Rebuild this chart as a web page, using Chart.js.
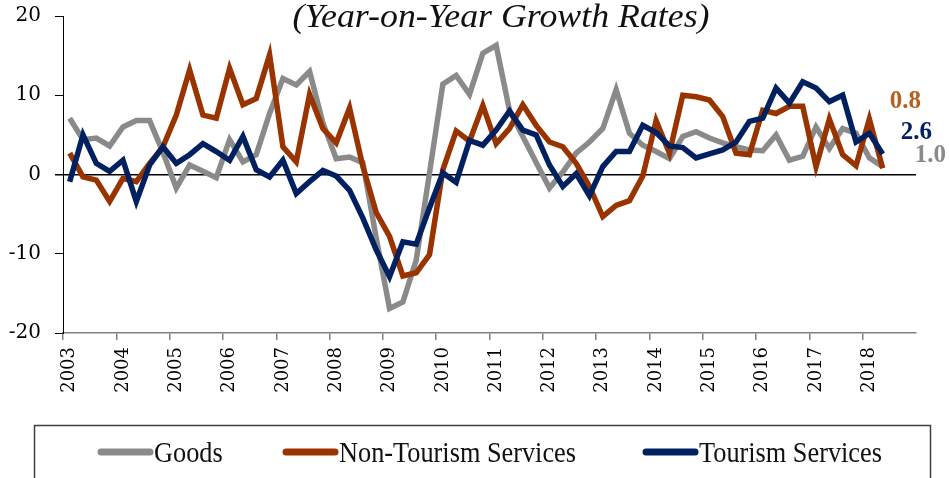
<!DOCTYPE html>
<html>
<head>
  <meta charset="utf-8" />
  <title>Year-on-Year Growth Rates</title>
  <script src="https://cdn.jsdelivr.net/npm/chart.js"></script>
  <style>
    html, body { margin: 0; padding: 0; background: #fff; }
    #wrap { width: 949px; height: 478px; }
  </style>
</head>
<body>
  <div id="wrap"><canvas id="growthChart"></canvas></div>

  <script>
    // Years on the axis (quarterly data, one label per year)
    const years = [2003, 2004, 2005, 2006, 2007, 2008, 2009, 2010,
                   2011, 2012, 2013, 2014, 2015, 2016, 2017, 2018];

    // 2003Q1 .. 2018Q2, year-on-year growth (%)
    const goods = [
      7.1, 4.4, 4.6, 3.6, 6.0, 6.8, 6.8, 2.8,
      -1.7, 1.2, 0.4, -0.4, 4.4, 1.6, 2.5, 7.7,
      12.1, 11.3, 13.0, 6.5, 2.0, 2.2, 1.5, -8.0,
      -16.9, -16.1, -10.8, 0.2, 11.4, 12.5, 10.1, 15.3,
      16.3, 8.1, 4.8, 1.5, -1.7, 0.3, 2.7, 4.1,
      5.8, 10.7, 5.2, 3.7, 2.9, 2.0, 4.8, 5.4,
      4.6, 4.0, 3.5, 3.1, 3.0, 5.0, 1.8, 2.3,
      6.0, 3.3, 5.8, 5.2, 2.1, 1.0
    ];
    const nonTourism = [
      2.7, -0.3, -0.7, -3.4, -0.5, -0.9, 1.4, 3.5,
      7.5, 13.2, 7.5, 7.1, 13.4, 8.8, 9.6, 15.1,
      3.5, 1.6, 10.1, 5.8, 4.0, 8.4, 1.0, -4.8,
      -7.8, -12.8, -12.4, -10.1, 0.6, 5.5, 4.2, 8.7,
      3.9, 5.8, 8.8, 6.2, 4.1, 3.5, 1.4, -1.5,
      -5.3, -3.9, -3.3, -0.2, 6.8, 2.7, 10.0, 9.8,
      9.4, 7.3, 2.7, 2.5, 8.1, 7.7, 8.6, 8.6,
      1.0, 7.0, 2.5, 1.1, 7.0, 0.8
    ];
    const tourism = [
      -0.9, 5.0, 1.4, 0.4, 1.8, -3.4, 1.2, 3.5,
      1.4, 2.5, 3.9, 2.9, 1.8, 4.8, 0.6, -0.3,
      1.8, -2.4, -0.9, 0.5, -0.2, -2.0, -5.5, -9.5,
      -12.9, -8.5, -8.8, -4.2, 0.2, -1.0, 4.3, 3.7,
      5.6, 8.0, 5.6, 5.0, 1.2, -1.5, 0.1, -2.7,
      1.0, 2.9, 2.9, 6.2, 5.3, 3.6, 3.4, 2.1,
      2.6, 3.1, 4.1, 6.7, 7.1, 10.9, 9.0, 11.7,
      10.9, 9.2, 10.0, 4.1, 5.2, 2.6
    ];

    const seriesNames = ['Goods', 'Non-Tourism Services', 'Tourism Services'];
    const seriesColors = ['#8a8a8a', '#993300', '#002060'];
    const endLabels = ['1.0', '0.8', '2.6'];
    const endLabelColors = ['#8a8a8a', '#b5601c', '#002060'];
    const yTicks = [-20, -10, 0, 10, 20];

    // one slot per quarter, 2003Q1 .. 2018Q4
    const quarterLabels = [];
    years.forEach(y => { for (let q = 1; q <= 4; q++) quarterLabels.push(y + 'Q' + q); });

    const decor = {
      id: 'decor',
      afterDraw(chart) {
        const ctx = chart.ctx;

        // title (top part cut off like the source picture)
        ctx.save();
        ctx.font = 'italic 33px "Liberation Serif"';
        ctx.fillStyle = '#111';
        ctx.textBaseline = 'alphabetic';
        const title = '(Year-on-Year Growth Rates)';
        const tw = ctx.measureText(title).width;
        ctx.translate(501 - 417 / 2, 27);
        ctx.scale(417 / tw, 1);
        ctx.fillText(title, 0, 0);
        ctx.restore();

        // latest values next to line ends
        const offs = [[32, -11], [7, -67], [18, -21]];
        ctx.save();
        ctx.font = 'bold 25px "Liberation Serif"';
        ctx.textBaseline = 'middle';
        chart.data.datasets.forEach((ds, i) => {
          const meta = chart.getDatasetMeta(i);
          const last = meta.data[ds.data.length - 1];
          ctx.fillStyle = endLabelColors[i];
          ctx.fillText(endLabels[i], last.x + offs[i][0], last.y + offs[i][1]);
        });
        ctx.restore();

        // legend box
        ctx.save();
        ctx.strokeStyle = '#404040';
        ctx.lineWidth = 1.5;
        ctx.strokeRect(34.5, 425.5, 896, 70);
        ctx.font = '30px "Liberation Serif"';
        const sx = 237 / ctx.measureText('Non-Tourism Services').width;
        const starts = [98, 283, 643];
        seriesNames.forEach((name, i) => {
          const x0 = starts[i];
          ctx.strokeStyle = seriesColors[i];
          ctx.lineWidth = 7;
          ctx.lineCap = 'round';
          ctx.beginPath();
          ctx.moveTo(x0 + 3, 452);
          ctx.lineTo(x0 + 52, 452);
          ctx.stroke();
          ctx.save();
          ctx.fillStyle = '#111';
          ctx.textBaseline = 'alphabetic';
          ctx.translate(x0 + 56, 462);
          ctx.scale(sx, 1);
          ctx.fillText(name, 0, 0);
          ctx.restore();
        });
        ctx.restore();
      }
    };

    const ctx = document.getElementById('growthChart').getContext('2d');
    const growthChart = new Chart(ctx, {
      type: 'line',
      data: {
        labels: quarterLabels,
        datasets: [
          { label: seriesNames[0], data: goods, borderColor: seriesColors[0], order: 3 },
          { label: seriesNames[1], data: nonTourism, borderColor: seriesColors[1], order: 2 },
          { label: seriesNames[2], data: tourism, borderColor: seriesColors[2], order: 1 }
        ]
      },
      options: {
        responsive: true,
        maintainAspectRatio: false,
        animation: false,
        elements: {
          line: { borderWidth: 5.5, tension: 0, fill: false },
          point: { radius: 0, hoverRadius: 0 }
        },
        layout: { padding: { top: 16, right: 33, left: 0, bottom: 0 } },
        plugins: {
          legend: { display: false },
          tooltip: { enabled: false },
          title: { display: false }
        },
        scales: {
          x: {
            type: 'category',
            offset: true,
            grid: {
              offset: true,
              drawOnChartArea: false,
              tickLength: 7,
              lineWidth: 1.5,
              color: c => (c.index % 4 === 0 ? '#808080' : 'rgba(0,0,0,0)')
            },
            border: { color: '#808080', width: 1.5 },
            ticks: {
              autoSkip: false,
              minRotation: 90,
              maxRotation: 90,
              padding: 7,
              color: '#000',
              font: { family: 'DejaVu Serif', size: 18 },
              callback: (v, i) => (i % 4 === 0 ? String(years[i / 4]) : '')
            },
            afterFit: s => {
              s.height = 145;
              s.paddingLeft = 0;
              s.paddingRight = 0;
            }
          },
          y: {
            min: -20,
            max: 20,
            afterBuildTicks: s => { s.ticks = yTicks.map(v => ({ value: v })); },
            grid: {
              tickLength: 8,
              tickColor: '#000',
              color: c => (c.tick && c.tick.value === 0 ? '#000' : 'rgba(0,0,0,0)'),
              lineWidth: c => (c.tick && c.tick.value === 0 ? 1.5 : 1)
            },
            border: { color: '#000', width: 1 },
            ticks: {
              padding: 14,
              color: '#000',
              font: { family: 'DejaVu Serif', size: 20 }
            },
            afterFit: s => {
              s.width = 63;
              s.paddingTop = 0;
              s.paddingBottom = 0;
            }
          }
        }
      },
      plugins: [decor]
    });
  </script>
</body>
</html>
